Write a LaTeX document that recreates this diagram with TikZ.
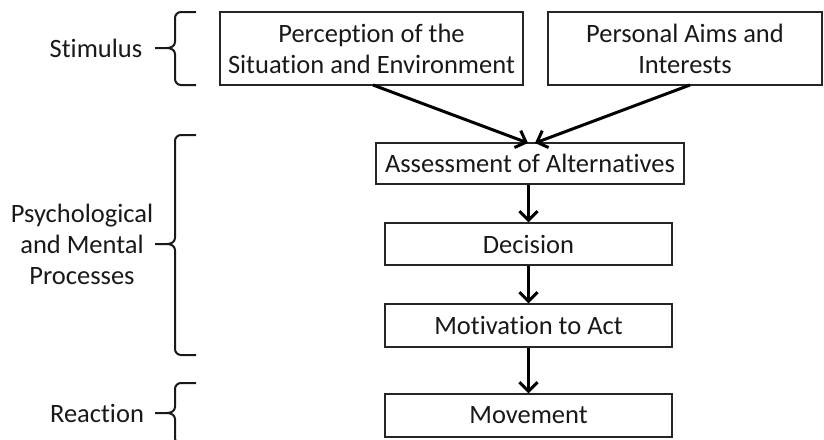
\documentclass[tikz,border=0pt]{standalone}
\usepackage{fontspec}
\setmainfont{Carlito}[Ligatures={NoCommon}]
\usetikzlibrary{arrows.meta}
\tikzset{
  box/.style={draw=black!85, line width=1.3pt, inner sep=0pt, align=center, font=\fontsize{26.5}{31}\selectfont, text=black!90},
  lab/.style={align=center, font=\fontsize{26.5}{31}\selectfont, text=black!90},
  flow/.style={line width=3pt, -{Straight Barb[length=9pt,width=18pt,line width=3pt]}},
  brc/.style={line width=2pt, black!90}
}
\newcommand{\mybrace}[4]{% xvert, top, bottom, mid
  \draw[brc] (#1+21,#2) -- (#1+6,#2) to[out=180,in=90] (#1,#2+6) -- (#1,#4-6) to[out=-90,in=0] (#1-8,#4) -- (#1-20,#4);
  \draw[brc] (#1-8,#4) to[out=0,in=90] (#1,#4+6) -- (#1,#3-6) to[out=-90,in=180] (#1+6,#3) -- (#1+21,#3);
}
\begin{document}
\begin{tikzpicture}[x=1pt,y=-1pt]
\useasboundingbox (0,0) rectangle (824,439);
\node[box, minimum width=303pt, minimum height=73pt] (perc) at (371.5,48.5) {Perception of the\\Situation and Environment};
\node[box, minimum width=274pt, minimum height=73pt] (aims) at (685,48.5) {Personal Aims and\\Interests};
\node[box, minimum width=308pt, minimum height=41pt] (assess) at (530,163.5) {Assessment of Alternatives};
\node[box, minimum width=287pt, minimum height=42pt] (dec) at (528.5,244) {Decision};
\node[box, minimum width=287pt, minimum height=43pt] (mot) at (528.5,325.5) {Motivation to Act};
\node[box, minimum width=287pt, minimum height=43pt] (mov) at (528.5,415.5) {Movement};

\coordinate (p1) at (373,85);
\coordinate (p2) at (690,85);
\coordinate (t1) at (528,143);
\coordinate (t2) at (535,143);
\draw[flow] (p1) -- (t1);
\draw[flow] (p2) -- (t2);
\draw[flow] (assess.south -| dec.north) -- (dec.north);
\draw[flow] (dec) -- (mot);
\draw[flow] (mot) -- (mov);

\node[lab] (stim) at (96,48) {Stimulus};
\node[lab] (psy) at (82,244) {Psychological\\and Mental\\Processes};
\node[lab] (rea) at (97,413) {Reaction};

\mybrace{175}{12}{85}{48}
\mybrace{175}{135}{355}{244}
\mybrace{175}{383}{444}{413}
\end{tikzpicture}
\end{document}
